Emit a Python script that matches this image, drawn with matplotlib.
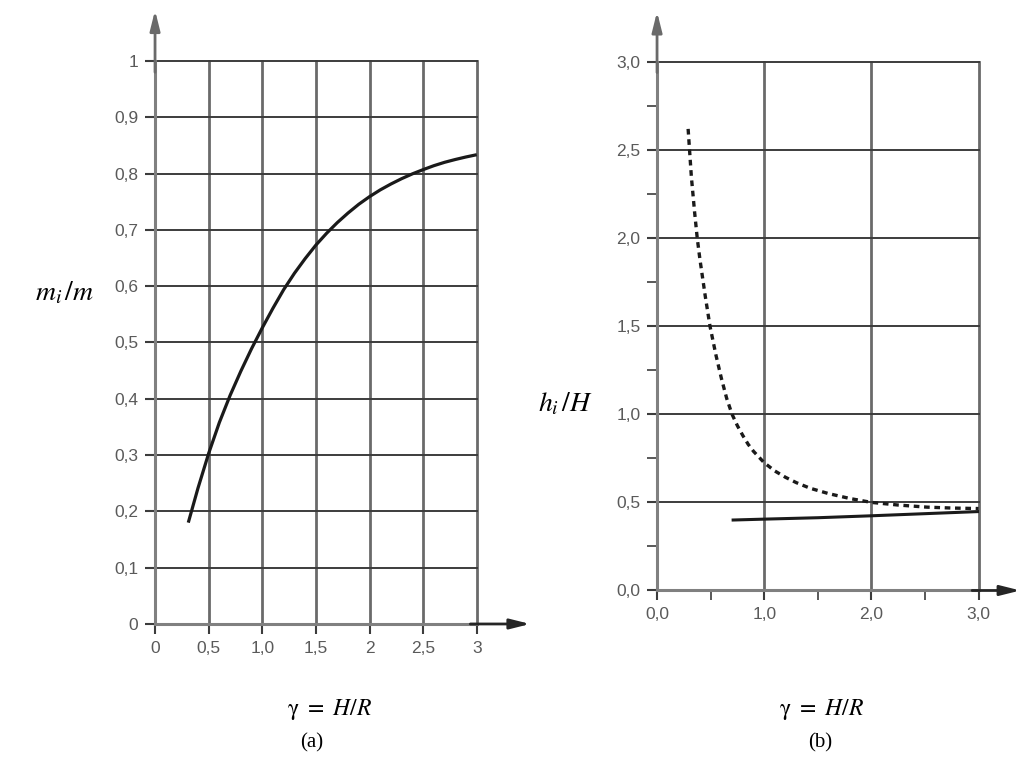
import numpy as np
import matplotlib
matplotlib.use("Agg")
import matplotlib.pyplot as plt

plt.rcParams['mathtext.fontset'] = 'stix'

# (a) mass ratio m_i/m against gamma = H/R
gamma_a = [0.31, 0.4, 0.5, 0.6, 0.7, 0.8, 0.9, 1.0, 1.1, 1.2, 1.3, 1.4, 1.5, 1.6,
           1.7, 1.8, 1.9, 2.0, 2.1, 2.2, 2.3, 2.4, 2.5, 2.6, 2.7, 2.8, 2.9, 3.0]
mi_m = [0.18, 0.241, 0.303, 0.358, 0.406, 0.449, 0.489, 0.526, 0.561, 0.594, 0.623,
        0.649, 0.673, 0.694, 0.713, 0.730, 0.7455, 0.759, 0.771, 0.7815, 0.791,
        0.7995, 0.807, 0.814, 0.820, 0.825, 0.8295, 0.8335]

# (b) height ratio h_i/H, dashed and solid curve
gamma_dash = [0.29, 0.32, 0.35, 0.375, 0.40, 0.45, 0.494, 0.55, 0.60, 0.65, 0.70,
              0.75, 0.80, 0.85, 0.90, 1.0, 1.1, 1.2, 1.3, 1.43, 1.6, 1.8, 2.0,
              2.25, 2.52, 2.75, 3.0]
hi_dash = [2.62, 2.35, 2.15, 2.00, 1.88, 1.67, 1.50, 1.335, 1.205, 1.09, 1.00,
           0.935, 0.88, 0.83, 0.79, 0.725, 0.678, 0.642, 0.612, 0.58, 0.55, 0.522,
           0.50, 0.485, 0.473, 0.468, 0.465]
gamma_solid = [0.71, 1.0, 1.5, 2.0, 2.5, 3.0]
hi_solid = [0.40, 0.405, 0.413, 0.424, 0.436, 0.448]

xticks_a = [0, 0.5, 1.0, 1.5, 2, 2.5, 3]
xlabels_a = ['0', '0,5', '1,0', '1,5', '2', '2,5', '3']
yticks_a = [0, 0.1, 0.2, 0.3, 0.4, 0.5, 0.6, 0.7, 0.8, 0.9, 1.0]
ylabels_a = ['0', '0,1', '0,2', '0,3', '0,4', '0,5', '0,6', '0,7', '0,8', '0,9', '1']
xticks_b = [0, 1.0, 2.0, 3.0]
xlabels_b = ['0,0', '1,0', '2,0', '3,0']
yticks_b = [0, 0.5, 1.0, 1.5, 2.0, 2.5, 3.0]
ylabels_b = ['0,0', '0,5', '1,0', '1,5', '2,0', '2,5', '3,0']

TICK_FONT = dict(family=['Liberation Sans', 'DejaVu Sans'], size=12.5, color='#5a5a5a')
SERIF = ['Liberation Serif', 'DejaVu Serif']
GRID_C = '#3c3c3c'
AXIS_C = '#808080'


def setup_axes(ax, xticks, xlabels, yticks, ylabels, xlim, ylim, xtip, ytip):
    ax.set_xlim(xlim)
    ax.set_ylim(ylim)
    for s in ['top', 'right']:
        ax.spines[s].set_visible(False)
    for s in ['left', 'bottom']:
        ax.spines[s].set_color(AXIS_C)
        ax.spines[s].set_linewidth(2.2)
    ax.set_xticks(xticks)
    ax.set_xticklabels(xlabels, **TICK_FONT)
    ax.set_yticks(yticks)
    ax.set_yticklabels(ylabels, **TICK_FONT)
    ax.tick_params(which='major', length=7, width=1.5, color=GRID_C, pad=5)
    ax.tick_params(which='minor', length=7, width=1.2, color=GRID_C)
    ax.xaxis.grid(True, color='#6a6a6a', lw=2.0)
    ax.yaxis.grid(True, color=GRID_C, lw=1.4)
    for line in ax.get_xgridlines() + ax.get_ygridlines():
        line.set_clip_on(False)
    ax.set_axisbelow(True)
    # arrow heads on both axes
    arrow = dict(arrowstyle='-|>,head_length=1.2,head_width=0.3', color='#252525', lw=2.0,
                 shrinkA=0, shrinkB=0)
    ax.annotate('', xy=(0, ytip), xytext=(0, 0.98), xycoords='axes fraction',
                arrowprops=dict(arrow, color='#6a6a6a'), annotation_clip=False)
    ax.annotate('', xy=(xtip, 0), xytext=(0.98, 0), xycoords='axes fraction',
                arrowprops=arrow, annotation_clip=False)


fig = plt.figure(figsize=(10.22, 7.63), dpi=100)

# panel (a)
ax1 = fig.add_axes([0.1517, 0.1822, 0.3148, 0.7379])
setup_axes(ax1, xticks_a, xlabels_a, yticks_a, ylabels_a, (0, 3), (0, 1), 1.166, 1.09)
ax1.plot(gamma_a, mi_m, color='#1a1a1a', lw=2.3, solid_capstyle='butt')

# panel (b)
ax2 = fig.add_axes([0.6429, 0.2261, 0.3146, 0.6927])
setup_axes(ax2, xticks_b, xlabels_b, yticks_b, ylabels_b, (0, 3), (0, 3), 1.13, 1.095)
ax2.set_xticks([0.5, 1.5, 2.5], minor=True)
ax2.set_yticks([0.25, 0.75, 1.25, 1.75, 2.25, 2.75], minor=True)
ax2.plot(gamma_dash, hi_dash, color='#1a1a1a', lw=2.4, dashes=(1.7, 1.4))
ax2.plot(gamma_solid, hi_solid, color='#1a1a1a', lw=2.2)

# labels
fig.text(65 / 1022, 1 - 292 / 763, r'$m_i\,/m$', fontsize=20, ha='center', va='center')
fig.text(565 / 1022, 1 - 403 / 763, r'$h_i\,/H$', fontsize=20, ha='center', va='center')
fig.text(330 / 1022, 1 - 710 / 763, r'$\mathrm{\gamma}\ =\ H/R$', fontsize=17,
         ha='center', va='center')
fig.text(822 / 1022, 1 - 710 / 763, r'$\mathrm{\gamma}\ =\ H/R$', fontsize=17,
         ha='center', va='center')
fig.text(312 / 1022, 1 - 743 / 763, '(a)', family=SERIF, fontsize=15, ha='center', va='center')
fig.text(820 / 1022, 1 - 743 / 763, '(b)', family=SERIF, fontsize=15, ha='center', va='center')

fig.savefig('out.png', dpi=100, facecolor='white')
